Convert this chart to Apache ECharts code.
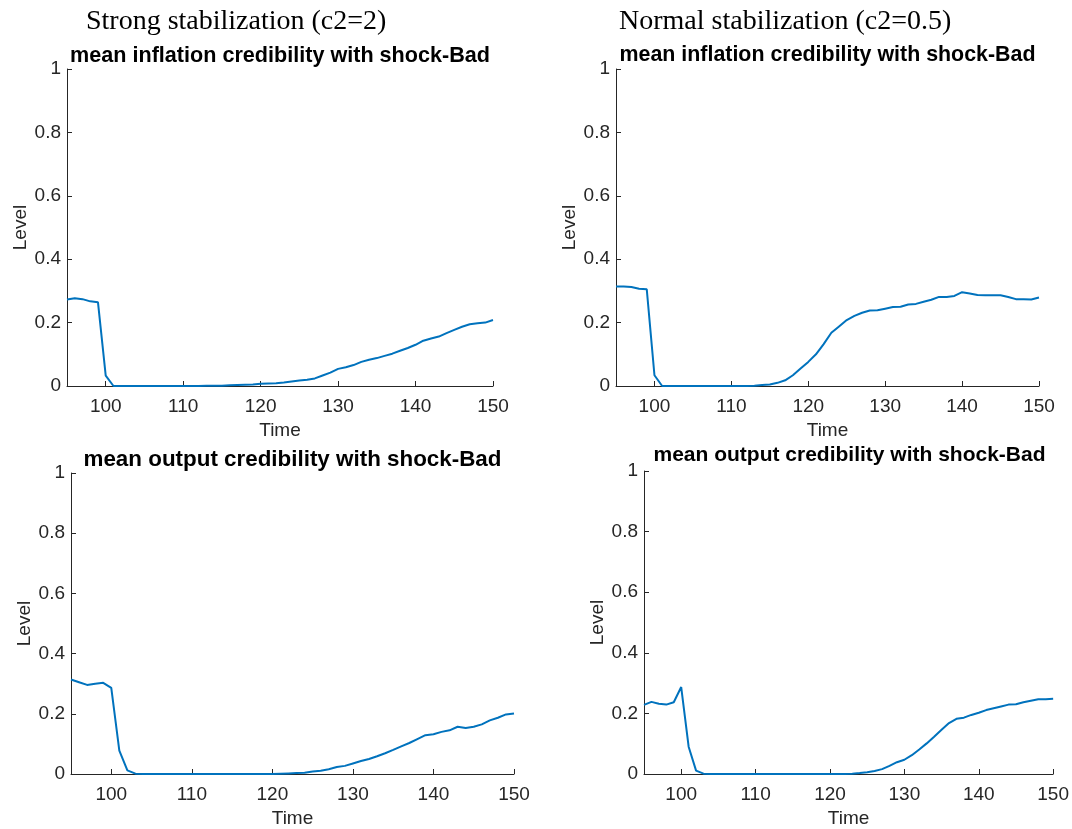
<!DOCTYPE html>
<html>
<head>
<meta charset="utf-8">
<script src="https://cdn.jsdelivr.net/npm/echarts@6/dist/echarts.min.js"></script>
<style>
html,body{margin:0;padding:0;background:#fff;}
#chart{width:1072px;height:829px;}
</style>
</head>
<body>
<div id="chart"></div>
<script>
// ---- data ----
const time = [95,96,97,98,99,100,101,102,103,104,105,106,107,108,109,110,111,112,113,114,115,116,117,118,119,120,121,122,123,124,125,126,127,128,129,130,131,132,133,134,135,136,137,138,139,140,141,142,143,144,145,146,147,148,149,150];
const xTickValues = [100,110,120,130,140,150];
const headers = ["Strong stabilization (c2=2)", "Normal stabilization (c2=0.5)"];
const panelTitles = [
  "mean inflation credibility with shock-Bad",
  "mean inflation credibility with shock-Bad",
  "mean output credibility with shock-Bad",
  "mean output credibility with shock-Bad"
];
// strong stabilization, inflation credibility
const inflStrong = [0.273,0.277,0.274,0.267,0.264,0.033,0,0,0,0,0,0,0,0,0,0,0,0,0.001,0.001,0.001,0.002,0.003,0.004,0.005,0.007,0.008,0.009,0.011,0.014,0.017,0.020,0.024,0.033,0.042,0.054,0.059,0.066,0.076,0.083,0.088,0.095,0.102,0.111,0.120,0.130,0.143,0.150,0.156,0.167,0.177,0.187,0.195,0.198,0.200,0.208];
// normal stabilization, inflation credibility
const inflNormal = [0.314,0.314,0.312,0.307,0.305,0.034,0,0,0,0,0,0,0,0,0,0,0,0,0.001,0.003,0.005,0.010,0.018,0.034,0.055,0.076,0.100,0.132,0.168,0.188,0.208,0.221,0.231,0.238,0.239,0.244,0.249,0.250,0.257,0.259,0.266,0.272,0.281,0.281,0.284,0.296,0.292,0.287,0.286,0.286,0.286,0.281,0.274,0.274,0.273,0.279];
// strong stabilization, output credibility
const outStrong = [0.314,0.305,0.296,0.300,0.303,0.286,0.078,0.012,0.001,0,0,0,0,0,0,0,0,0,0,0,0,0,0,0,0,0,0.001,0.002,0.003,0.004,0.008,0.011,0.016,0.023,0.027,0.035,0.043,0.050,0.059,0.069,0.080,0.092,0.103,0.116,0.129,0.132,0.140,0.145,0.157,0.153,0.157,0.165,0.178,0.187,0.198,0.201];
// normal stabilization, output credibility
const outNormal = [0.228,0.238,0.232,0.229,0.237,0.287,0.090,0.011,0.001,0,0,0,0,0,0,0,0,0,0,0,0,0,0,0,0,0,0,0,0.001,0.003,0.006,0.010,0.016,0.027,0.039,0.047,0.062,0.081,0.101,0.123,0.146,0.168,0.182,0.186,0.195,0.202,0.211,0.217,0.223,0.229,0.230,0.237,0.242,0.247,0.247,0.248];

const seriesValues = [inflStrong, inflNormal, outStrong, outNormal];

// ---- layout ----
const grids = [
  {left: 67, top: 69, width: 426, height: 317},
  {left: 616, top: 69, width: 423, height: 317},
  {left: 71, top: 473, width: 443, height: 305},
  {left: 644, top: 471, width: 411, height: 306}
];
const titleSizes = [21.6, 21.4, 22.4, 21.0];
const titleOffsets = [24, 24, 24, 26];
const SANS = "'Liberation Sans', Arial, sans-serif";
const SERIF = "'Liberation Serif', 'Times New Roman', serif";
const AX = '#262626';

const option = {
  animation: false,
  backgroundColor: '#fff',
  title: [],
  grid: grids.map(g => Object.assign({containLabel: false}, g)),
  xAxis: [],
  yAxis: [],
  series: []
};

option.title.push({text: headers[0], left: 86, top: 8, padding: 0, textStyle: {fontFamily: SERIF, fontSize: 28, fontWeight: 'normal', color: '#000'}});
option.title.push({text: headers[1], left: 619, top: 8, padding: 0, textStyle: {fontFamily: SERIF, fontSize: 28, fontWeight: 'normal', color: '#000'}});

grids.forEach((g, i) => {
  option.title.push({
    text: panelTitles[i],
    left: g.left + g.width / 2,
    top: g.top - titleOffsets[i],
    textAlign: 'center',
    padding: 0,
    textStyle: {fontFamily: SANS, fontSize: titleSizes[i], fontWeight: 'bold', color: '#000'}
  });
  option.xAxis.push({
    type: 'value', gridIndex: i, min: 95, max: 150,
    name: 'Time', nameLocation: 'middle', nameGap: 35,
    nameTextStyle: {fontFamily: SANS, fontSize: 19, color: AX},
    axisLine: {show: true, onZero: false, lineStyle: {color: AX, width: 1}},
    axisTick: {show: true, inside: true, length: 5, customValues: xTickValues, lineStyle: {color: AX}},
    axisLabel: {show: true, customValues: xTickValues, fontFamily: SANS, fontSize: 19, color: AX, margin: 11},
    splitLine: {show: false}
  });
  option.yAxis.push({
    type: 'value', gridIndex: i, min: 0, max: 1, interval: 0.2,
    name: 'Level', nameLocation: 'middle', nameGap: 37, nameRotate: 90,
    nameTextStyle: {fontFamily: SANS, fontSize: 19, color: AX},
    axisLine: {show: true, lineStyle: {color: AX, width: 1}},
    axisTick: {show: true, inside: true, length: 5, lineStyle: {color: AX}},
    axisLabel: {show: true, fontFamily: SANS, fontSize: 19, color: AX, margin: 6},
    splitLine: {show: false}
  });
  option.series.push({
    type: 'line', xAxisIndex: i, yAxisIndex: i,
    data: time.map((t, k) => [t, seriesValues[i][k]]),
    showSymbol: false, symbol: 'none',
    lineStyle: {color: '#0072BD', width: 2},
    clip: false
  });
});

const chart = echarts.init(document.getElementById('chart'), null, {renderer: 'canvas'});
chart.setOption(option);
</script>
</body>
</html>
